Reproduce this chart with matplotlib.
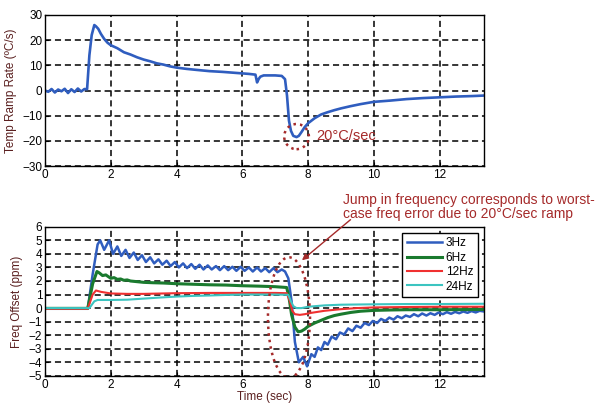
import matplotlib.pyplot as plt
from matplotlib.patches import Ellipse

plt.rcParams['font.family'] = ['Liberation Sans', 'DejaVu Sans']

# temperature ramp rate (top panel)
ramp_t = [0, 0.1, 0.2, 0.3, 0.4, 0.5, 0.6, 0.7, 0.8, 0.9, 1.0, 1.1, 1.2, 1.28,
          1.35, 1.42, 1.5, 1.55, 1.62, 1.7, 1.8, 1.9, 2.0, 2.2, 2.4, 2.6, 2.8,
          3.0, 3.2, 3.4, 3.6, 3.8, 4.0, 4.3, 4.6, 5.0, 5.4, 5.8, 6.2, 6.4, 6.45,
          6.5, 6.55, 6.65, 6.8, 7.0, 7.2, 7.3, 7.36, 7.42, 7.48, 7.55, 7.65,
          7.72, 7.8, 7.9, 8.0, 8.2, 8.4, 8.6, 8.8, 9.0, 9.3, 9.6, 10.0, 10.5,
          11.0, 11.5, 12.0, 12.5, 13.0, 13.35]
ramp_v = [0, -0.5, 0.6, -0.8, 0.4, -0.3, 0.7, -1.0, 0.5, -0.6, 0.8, -0.4, 0.6, 0.5,
          14, 22, 26, 25.5, 24.5, 22.5, 20.5, 19, 18, 16.8, 15.2, 14.3, 13.2,
          12.3, 11.6, 10.8, 10.3, 9.6, 9.1, 8.6, 8.2, 7.7, 7.4, 7.0, 6.6, 6.3, 3.2,
          4.6, 5.5, 6.0, 6.0, 6.0, 5.8, 4.5, -2, -12, -16, -18, -18.5,
          -18, -16.5, -14.5, -13, -11, -9.5, -8.6, -7.8, -7.1, -6.2, -5.4, -4.5, -4.0,
          -3.4, -3.0, -2.7, -2.4, -2.2, -2.0]

# frequency offset (bottom panel)
t_3hz = [0, 1.3, 1.45, 1.6, 1.68, 1.8, 1.95, 2.07, 2.2, 2.32, 2.45, 2.57, 2.7,
         2.82, 2.95, 3.07, 3.2, 3.32, 3.45, 3.57, 3.7, 3.82, 3.95, 4.07, 4.2,
         4.32, 4.45, 4.57, 4.7, 4.82, 4.95, 5.07, 5.2, 5.32, 5.45, 5.57, 5.7,
         5.82, 5.95, 6.07, 6.2, 6.32, 6.45, 6.57, 6.7, 6.82, 6.95, 7.07, 7.2,
         7.3, 7.4, 7.5, 7.6, 7.72, 7.85, 7.97, 8.1, 8.2, 8.3, 8.4, 8.5, 8.6,
         8.72, 8.85, 8.97, 9.1, 9.22, 9.35, 9.47, 9.6, 9.72, 9.85, 9.97, 10.1,
         10.22, 10.35, 10.47, 10.6, 10.72, 10.85, 10.97, 11.1, 11.22, 11.35,
         11.47, 11.6, 11.72, 11.85, 11.97, 12.1, 12.22, 12.35, 12.47, 12.6,
         12.72, 12.85, 12.97, 13.1, 13.22, 13.35]
f_3hz = [-0.05, -0.05, 2.5, 4.7, 5.0, 4.3, 5.0, 4.0, 4.55, 3.85, 4.3, 3.7, 4.1,
         3.55, 3.9, 3.4, 3.75, 3.3, 3.6, 3.2, 3.5, 3.1, 3.4, 3.0, 3.3,
         2.95, 3.25, 2.9, 3.2, 2.85, 3.15, 2.85, 3.1, 2.8, 3.1, 2.8, 3.05,
         2.75, 3.05, 2.75, 3.0, 2.7, 3.0, 2.7, 2.95, 2.65, 2.95, 2.65, 2.85,
         2.7, 2.2, 0.5, -2.5, -4.0, -3.6, -4.3, -3.4, -3.6, -2.9, -3.1, -2.5, -2.7,
         -2.1, -2.3, -1.8, -1.95, -1.5, -1.7, -1.3, -1.45, -1.1, -1.25, -0.95, -1.1,
         -0.8, -0.95, -0.7, -0.85, -0.6, -0.75, -0.55, -0.65, -0.45, -0.6,
         -0.4, -0.55, -0.38, -0.5, -0.33, -0.45, -0.3, -0.42, -0.28, -0.38,
         -0.25, -0.35, -0.22, -0.32, -0.2, -0.25]

t_6hz = [0, 1.3, 1.45, 1.58, 1.65, 1.75, 1.85, 2.0, 2.1, 2.2, 2.3, 2.4, 2.5,
         2.6, 2.8, 3.0, 3.3, 3.6, 4.0, 4.5, 5.0, 5.5, 6.0, 6.5, 7.0, 7.35,
         7.42, 7.5, 7.6, 7.7, 7.8, 7.9, 8.0, 8.2, 8.4, 8.6, 8.8, 9.0, 9.3,
         9.6, 10.0, 10.5, 11.0, 12.0, 13.35]
f_6hz = [-0.02, -0.02, 1.8, 2.7, 2.6, 2.4, 2.45, 2.2, 2.25, 2.12, 2.15, 2.05, 2.08,
         2.0, 1.95, 1.9, 1.87, 1.85, 1.8, 1.76, 1.72, 1.7, 1.65, 1.62, 1.58, 1.52,
         0.8, -0.5, -1.4, -1.75, -1.7, -1.55, -1.35, -1.1, -0.9, -0.7, -0.55, -0.45, -0.32,
         -0.23, -0.17, -0.14, -0.12, -0.12, -0.1]

t_12hz = [0, 1.3, 1.45, 1.55, 1.7, 2.0, 2.5, 3.0, 4.0, 5.0, 6.0, 7.0, 7.35,
          7.45, 7.52, 7.6, 7.75, 7.9, 8.1, 8.5, 9.0, 9.5, 10.0, 11.0, 12.0, 13.35]
f_12hz = [-0.05, -0.05, 1.0, 1.3, 1.2, 1.08, 1.05, 1.05, 1.1, 1.12, 1.12, 1.12, 1.1,
          0.5, -0.2, -0.45, -0.5, -0.45, -0.35, -0.2, -0.08, 0.0, 0.05, 0.08, 0.1, 0.1]

t_24hz = [0, 1.35, 1.5, 1.6, 2.0, 2.5, 3.0, 3.5, 4.0, 4.5, 5.0, 5.5, 6.0, 7.0,
          7.4, 7.48, 7.55, 7.65, 7.8, 8.0, 8.5, 9.0, 10.0, 11.0, 12.0, 13.35]
f_24hz = [0.0, 0.0, 0.5, 0.6, 0.6, 0.62, 0.7, 0.78, 0.85, 0.9, 0.93, 0.97, 1.0, 1.0,
          0.98, 0.5, 0.15, 0.0, 0.0, 0.1, 0.2, 0.25, 0.28, 0.3, 0.3, 0.32]

labels = ['3Hz', '6Hz', '12Hz', '24Hz']
colors = ['#2f5dbf', '#1a7a2e', '#f03030', '#3cc4c0']
widths = [1.8, 2.2, 1.5, 1.5]

dark_red = '#a52a2a'
label_col = '#5a1f1f'


def style_axes(ax):
    ax.set_xlim(0, 13.35)
    ax.set_xticks(range(0, 13, 2))
    ax.grid(True, color='black', linestyle=(0, (4, 2.5)), linewidth=1.1)
    ax.tick_params(direction='in', labelsize=8.5, length=3, pad=2)
    for s in ax.spines.values():
        s.set_linewidth(1.0)


fig = plt.figure(figsize=(6.08, 4.05), dpi=100)
ax1 = fig.add_axes([0.074, 0.590, 0.722, 0.373])
ax2 = fig.add_axes([0.074, 0.072, 0.722, 0.368])

# top: ramp rate
ax1.plot(ramp_t, ramp_v, color=colors[0], lw=1.9)
style_axes(ax1)
ax1.set_ylim(-30, 30)
ax1.set_yticks(range(-30, 31, 10))
ax1.set_ylabel('Temp Ramp Rate (ºC/s)', fontsize=8.5, color=label_col)
ax1.add_patch(Ellipse((7.65, -18.3), 0.75, 10.0, fill=False, ls=':',
                      lw=1.8, color=dark_red, zorder=4))
ax1.text(8.25, -18.0, '20°C/sec', color=dark_red, fontsize=10.5, va='center')

# bottom: frequency offset
series = [(t_3hz, f_3hz), (t_6hz, f_6hz), (t_12hz, f_12hz), (t_24hz, f_24hz)]
for (t, f), lab, c, w in zip(series, labels, colors, widths):
    ax2.plot(t, f, color=c, lw=w, label=lab)
style_axes(ax2)
ax2.set_ylim(-5, 6)
ax2.set_yticks(range(-5, 7))
ax2.set_ylabel('Freq Offset (ppm)', fontsize=8.5, color=label_col)
ax2.set_xlabel('Time (sec)', fontsize=8.5, color=label_col, labelpad=0)
ax2.add_patch(Ellipse((7.42, -0.7), 1.28, 8.9, fill=False, ls=':',
                      lw=1.8, color=dark_red, zorder=4))
leg = ax2.legend(loc='upper right', fontsize=8.5, handlelength=3.0,
                 fancybox=False, edgecolor='black', framealpha=1,
                 borderpad=0.4, labelspacing=0.2, handletextpad=0.3)
leg.get_frame().set_linewidth(1.0)

fig.text(0.564, 0.455, 'Jump in frequency corresponds to worst-\n'
         'case freq error due to 20°C/sec ramp',
         color=dark_red, fontsize=10, linespacing=1.0, va='bottom')
ax2.annotate('', xy=(7.75, 3.4), xycoords='data',
             xytext=(0.58, 0.462), textcoords='figure fraction',
             arrowprops=dict(arrowstyle='-|>', color=dark_red, lw=1.0,
                             mutation_scale=9),
             annotation_clip=False)

fig.savefig('out.png', dpi=100)
